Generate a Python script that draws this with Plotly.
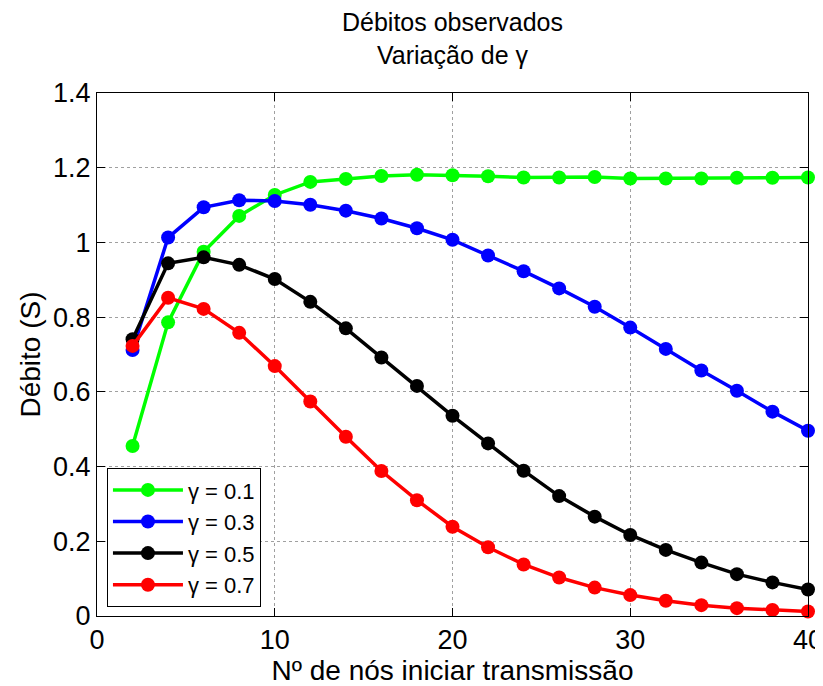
import plotly.graph_objects as go

x = [2, 4, 6, 8, 10, 12, 14, 16, 18, 20, 22, 24, 26, 28, 30, 32, 34, 36, 38, 40]

g01 = [0.455, 0.786, 0.975, 1.071, 1.127, 1.162, 1.170, 1.178, 1.181, 1.180, 1.177, 1.174,
       1.174, 1.175, 1.171, 1.171, 1.171, 1.173, 1.173, 1.174]
g03 = [0.712, 1.013, 1.094, 1.113, 1.111, 1.101, 1.085, 1.064, 1.038, 1.007, 0.965, 0.923,
       0.877, 0.828, 0.772, 0.715, 0.657, 0.603, 0.547, 0.496]
g05 = [0.741, 0.944, 0.960, 0.940, 0.902, 0.841, 0.770, 0.692, 0.616, 0.536, 0.462, 0.389,
       0.321, 0.266, 0.217, 0.177, 0.143, 0.112, 0.090, 0.071]
g07 = [0.723, 0.852, 0.822, 0.758, 0.669, 0.574, 0.480, 0.388, 0.310, 0.239, 0.184, 0.138,
       0.103, 0.076, 0.056, 0.041, 0.029, 0.021, 0.016, 0.012]

series = [
    ("γ = 0.1", g01, "#00ff00"),
    ("γ = 0.3", g03, "#0000ff"),
    ("γ = 0.5", g05, "#000000"),
    ("γ = 0.7", g07, "#ff0000"),
]

title_lines = ["Débitos observados", "Variação de γ"]

FONT = "Liberation Sans, Arial, sans-serif"

fig = go.Figure()
for name, ys, col in series:
    fig.add_trace(go.Scatter(
        x=x, y=ys, name=name, mode="lines+markers",
        line=dict(color=col, width=3.5),
        marker=dict(color=col, size=14),
        cliponaxis=False,
    ))

axis_common = dict(
    showline=True, linecolor="black", linewidth=1, mirror="ticks",
    ticks="inside", ticklen=8, tickcolor="black",
    showgrid=True, gridcolor="#a0a0a0", griddash="dot", gridwidth=1,
    zeroline=False, automargin=False, ticklabeloverflow="allow",
    tickfont=dict(family=FONT, size=27, color="black"),
)

# page body has an 8px default margin: plot area offset accordingly
PLOT_TOP, PLOT_H = 85, 523
for i, (txt, fy) in enumerate(zip(title_lines, [14, 47])):
    fig.add_annotation(
        text=txt, xref="paper", yref="paper", x=0.5, y=1 + (PLOT_TOP - fy) / PLOT_H,
        xanchor="center", yanchor="middle", showarrow=False,
        font=dict(family=FONT, size=25, color="black"),
    )

fig.update_layout(
    width=823, height=678,
    margin=dict(l=89, r=23, t=PLOT_TOP, b=70, pad=0),
    paper_bgcolor="white", plot_bgcolor="white",
    font=dict(family=FONT, size=27, color="black"),
    xaxis=dict(range=[0, 40], tickvals=[0, 10, 20, 30, 40],
               title=dict(text="Nº de nós iniciar transmissão", standoff=0,
                          font=dict(family=FONT, size=28)),
               **axis_common),
    yaxis=dict(range=[0, 1.4], tickvals=[0, 0.2, 0.4, 0.6, 0.8, 1, 1.2, 1.4],
               ticktext=["0", "0.2", "0.4", "0.6", "0.8", "1", "1.2", "1.4"],
               title=dict(text="Débito (S)", standoff=4,
                          font=dict(family=FONT, size=28)),
               **axis_common),
    legend=dict(
        x=0.014, y=0.017, xanchor="left", yanchor="bottom",
        bgcolor="white", bordercolor="black", borderwidth=1,
        font=dict(family=FONT, size=22, color="black"),
        tracegroupgap=0, itemwidth=70,
    ),
    showlegend=True,
)

fig.write_html("out.html")
